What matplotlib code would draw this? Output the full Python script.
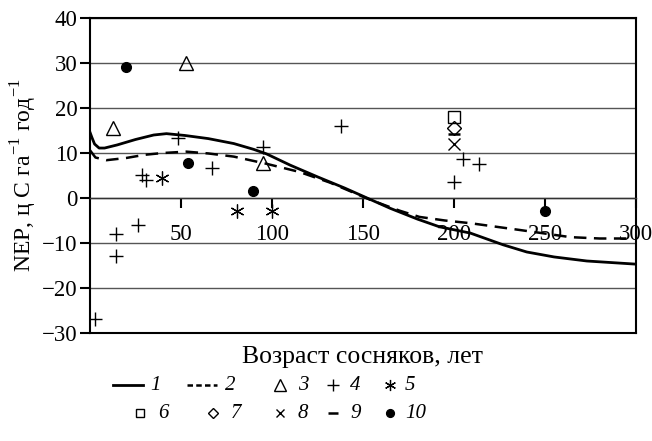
import matplotlib
matplotlib.use("Agg")
import matplotlib.pyplot as plt
from matplotlib.lines import Line2D

plt.rcParams['font.family'] = ['Liberation Serif', 'DejaVu Serif']
plt.rcParams['mathtext.fontset'] = 'custom'
plt.rcParams['mathtext.rm'] = 'Liberation Serif'

# model curves (1 - solid, 2 - dashed)
curve1_age = [0, 1, 2.5, 5, 8, 15, 25, 35, 42, 52, 65, 79, 90, 97, 110, 125, 140, 150,
              165, 180, 192, 209, 227, 240, 255, 273, 300]
curve1_nep = [14.6, 13.5, 12.0, 11.1, 11.1, 11.8, 13.0, 14.0, 14.3, 13.9, 13.2, 12.1, 10.8,
              9.8, 7.3, 4.7, 2.2, 0.4, -2.3, -4.7, -6.4, -7.8, -10.4, -12.0, -13.1, -14.0, -14.7]
curve2_age = [0, 3, 9, 20, 30, 40, 53, 65, 79, 97, 115, 132, 154, 170, 181, 195, 209,
              236, 264, 280, 298]
curve2_nep = [10.6, 9.0, 8.4, 8.9, 9.6, 10.0, 10.3, 9.9, 9.2, 7.6, 5.8, 3.4, -0.4, -2.8,
              -4.2, -5.0, -5.6, -7.1, -8.7, -9.0, -9.0]

# observations (3..10)
s3_age, s3_nep = [12.8, 53, 95], [15.5, 30.0, 7.7]
s4_age = [2.7, 14.3, 14.3, 26.5, 28.4, 30.5, 48.5, 67, 95, 138, 200, 204.7, 214]
s4_nep = [-26.8, -7.9, -12.8, -6.0, 5.1, 4.0, 13.3, 6.6, 11.3, 16.0, 3.6, 8.6, 7.6]
s5_age, s5_nep = [39.7, 80.5, 100], [4.4, -3.0, -3.0]
s6_age, s6_nep = [200], [18.0]
s7_age, s7_nep = [200], [15.5]
s8_age, s8_nep = [200], [12.0]
s9_age, s9_nep = [200], [14.3]
s10_age, s10_nep = [20, 54, 89.3, 250], [29.2, 7.8, 1.6, -2.8]

xticks = [50, 100, 150, 200, 250, 300]
yticks = [-30, -20, -10, 0, 10, 20, 30, 40]

fig = plt.figure(figsize=(6.52, 4.41), dpi=100)
ax = fig.add_axes([90 / 652, 1 - 333 / 441, 546 / 652, 315 / 441])

for y in yticks:
    ax.axhline(y, color='#555555', lw=1.0, zorder=1)

ax.plot(curve1_age, curve1_nep, color='black', lw=2.0, zorder=3)
ax.plot(curve2_age, curve2_nep, color='black', lw=1.8, dashes=(5, 3), zorder=3)

# marker styles of the observation groups, shared with the legend
styles = {
    '3': dict(marker='^', ms=10, mfc='none', mew=1.0),
    '4': dict(marker='+', ms=10, mew=1.0),
    '5': dict(marker=(6, 2, 0), ms=10, mew=0.9),
    '6': dict(marker='s', ms=8, mfc='none', mew=1.0),
    '7': dict(marker='D', ms=7, mfc='none', mew=1.0),
    '8': dict(marker='x', ms=8, mew=1.0),
    '9': dict(marker='_', ms=9, mew=1.8),
    '10': dict(marker='o', ms=7),
}
groups = {'3': (s3_age, s3_nep), '4': (s4_age, s4_nep), '5': (s5_age, s5_nep),
          '6': (s6_age, s6_nep), '7': (s7_age, s7_nep), '8': (s8_age, s8_nep),
          '9': (s9_age, s9_nep), '10': (s10_age, s10_nep)}
for key, (xs, ys) in groups.items():
    ax.plot(xs, ys, color='black', linestyle='none', zorder=4, **styles[key])

ax.set_xlim(0, 300)
ax.set_ylim(-30, 40)

# x axis runs along the zero line, the frame stays closed at the bottom
ax.spines['bottom'].set_position(('data', 0))
ax.spines['bottom'].set_linewidth(1.0)
ax.spines['bottom'].set_color('#333333')
for side in ['left', 'right', 'top']:
    ax.spines[side].set_linewidth(1.5)
ax.axhline(-30, color='black', lw=1.5, clip_on=False, zorder=5)

ax.set_xticks(xticks)
ax.set_xticklabels([str(v) for v in xticks])
ax.tick_params(axis='x', direction='out', length=7, width=1.5, pad=12, labelsize=16.5)
ax.set_yticks(yticks)
ax.set_yticklabels([str(v).replace('-', '\u2212') for v in yticks])
ax.tick_params(axis='y', direction='out', length=7, width=1.5, pad=2, labelsize=16.5)

ax.set_ylabel('NEP, ц С га$^{-1}$ год$^{-1}$', fontsize=17, labelpad=2)
fig.text(362 / 652, 1 - 357 / 441, 'Возраст сосняков, лет', ha='center', va='center',
         fontsize=18.5)

# legend, two rows laid out by hand (x positions in pixels)
W, H = 652, 441
lab = dict(fontsize=15, style='italic', va='center', ha='left')


def fx(px):
    return px / W


def fy(py):
    return 1 - py / H


y1, y2 = 385, 413
fig.add_artist(Line2D([fx(113), fx(143)], [fy(y1), fy(y1)], color='black', lw=2.0))
fig.text(fx(150), fy(y1), '1', **lab)
fig.add_artist(Line2D([fx(187), fx(217)], [fy(y1), fy(y1)], color='black', lw=1.8,
                      dashes=(2.2, 1.3)))
fig.text(fx(225), fy(y1), '2', **lab)
row1 = [('3', 280, 298), ('4', 333, 350), ('5', 390, 405)]
row2 = [('6', 140, 158), ('7', 213, 231), ('8', 280, 298), ('9', 333, 350), ('10', 390, 405)]
for yy, row in [(y1, row1), (y2, row2)]:
    for key, hx, tx in row:
        st = dict(styles[key])
        st['ms'] = st['ms'] * 0.8
        fig.add_artist(Line2D([fx(hx)], [fy(yy)], color='black', linestyle='none', **st))
        fig.text(fx(tx), fy(yy), key, **lab)

fig.savefig('out.png', dpi=100)
